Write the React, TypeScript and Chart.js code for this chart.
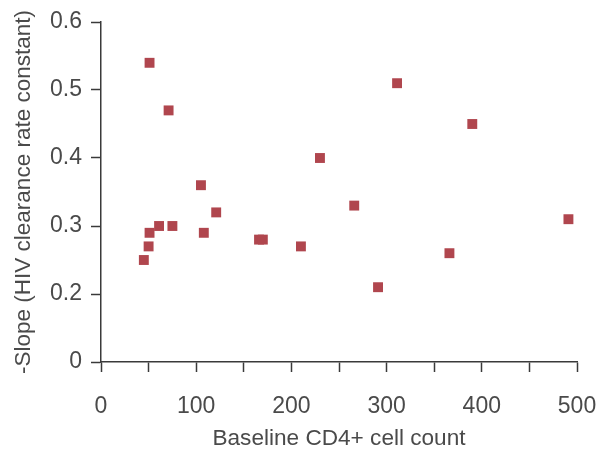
import React, { useEffect, useRef } from "react";
import { Chart, registerables } from "chart.js";

Chart.register(...registerables);

// Baseline CD4+ cell count
const cd4Counts = [45, 50, 51, 51, 61, 71, 75, 105, 108, 121, 166, 170, 210, 230, 266, 291, 311, 366, 390, 491];
// -Slope (HIV clearance rate constant)
const slopes = [0.25, 0.27, 0.29, 0.54, 0.30, 0.47, 0.30, 0.36, 0.29, 0.32, 0.28, 0.28, 0.27, 0.40, 0.33, 0.21, 0.51, 0.26, 0.45, 0.31];

const xTitle = "Baseline CD4+ cell count";
const yTitle = "-Slope (HIV clearance rate constant)";
const xLabelValues = [0, 100, 200, 300, 400, 500];
const yTickValues = [0.1, 0.2, 0.3, 0.4, 0.5, 0.6];
const yTickLabels = ["0", "0.2", "0.3", "0.4", "0.5", "0.6"];

const FONT = "'Liberation Sans', Arial, Helvetica, sans-serif";
const TEXT = "#4a4a4a";
const AXIS = "#3a3a3a";
const MARK = "#b0464e";

export default function App() {
  const ref = useRef<HTMLCanvasElement | null>(null);

  useEffect(() => {
    if (!ref.current) return;
    const points = cd4Counts.map((x, i) => ({ x, y: slopes[i] }));
    const chart = new Chart(ref.current, {
      type: "scatter",
      data: {
        datasets: [
          {
            data: points,
            pointStyle: "rect",
            pointRadius: 7,
            pointHoverRadius: 7,
            backgroundColor: MARK,
            borderColor: MARK,
            borderWidth: 0,
            clip: false as any,
          },
        ],
      },
      options: {
        animation: false,
        responsive: false,
        maintainAspectRatio: false,
        devicePixelRatio: 1,
        layout: { padding: { top: 22, right: 23, bottom: 0, left: 0 } },
        plugins: { legend: { display: false }, tooltip: { enabled: false } },
        scales: {
          x: {
            type: "linear",
            min: 0,
            max: 500,
            afterFit: (s: any) => {
              s.height = 89;
              s.paddingLeft = 0;
              s.paddingRight = 0;
            },
            border: { display: true, color: AXIS, width: 1.5 },
            grid: {
              drawOnChartArea: false,
              drawTicks: true,
              tickLength: 10,
              tickColor: AXIS,
              tickWidth: 1.5,
            },
            ticks: {
              stepSize: 50,
              autoSkip: false,
              maxRotation: 0,
              padding: 21,
              color: TEXT,
              font: { family: FONT, size: 23 },
              callback: (v: any) => (xLabelValues.includes(Number(v)) ? String(v) : ""),
            },
            title: {
              display: true,
              text: xTitle,
              color: TEXT,
              font: { family: FONT, size: 22.6 },
              padding: { top: 0, bottom: -1 },
            },
          },
          y: {
            type: "linear",
            min: 0.1,
            max: 0.6,
            afterFit: (s: any) => {
              s.width = 101;
              s.paddingTop = 0;
              s.paddingBottom = 0;
            },
            afterBuildTicks: (s: any) => {
              s.ticks = yTickValues.map((value) => ({ value }));
            },
            border: { display: true, color: AXIS, width: 1.5 },
            grid: {
              drawOnChartArea: false,
              drawTicks: true,
              tickLength: 10,
              tickColor: AXIS,
              tickWidth: 1.5,
            },
            ticks: {
              padding: 9,
              color: TEXT,
              font: { family: FONT, size: 23 },
              callback: (v: any) => {
                const idx = yTickValues.findIndex((t) => Math.abs(t - Number(v)) < 1e-9);
                return idx >= 0 ? yTickLabels[idx] : "";
              },
            },
            title: {
              display: true,
              text: yTitle,
              color: TEXT,
              font: { family: FONT, size: 22.5 },
              padding: { top: 10, bottom: 0 },
            },
          },
        },
      },
    });
    return () => chart.destroy();
  }, []);

  return (
    <div style={{ position: "absolute", left: 0, top: 0, width: 600, height: 451, background: "#fff" }}>
      <canvas ref={ref} width={600} height={451} style={{ width: 600, height: 451, display: "block" }} />
    </div>
  );
}
